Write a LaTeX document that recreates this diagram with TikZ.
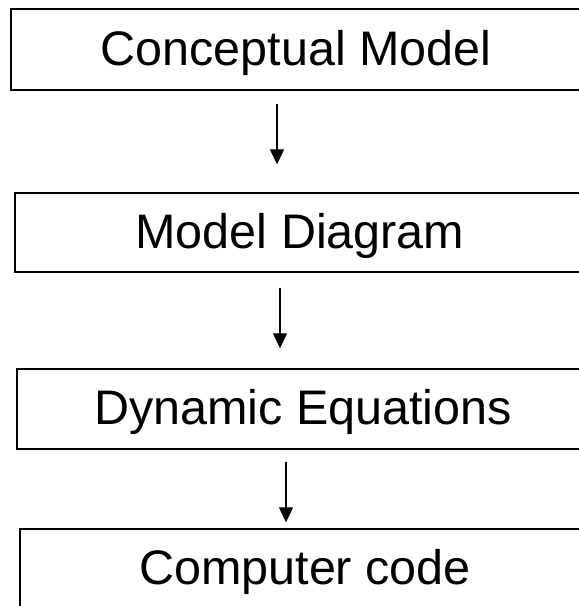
\documentclass[tikz,border=0pt]{standalone}
\usepackage{fontspec}
\setmainfont{Liberation Sans}
\usetikzlibrary{arrows.meta}
\begin{document}
\begin{tikzpicture}[x=1pt,y=-1pt,
  box/.style={draw=black,line width=1.4pt,rectangle,inner sep=0pt,
    font=\fontsize{48.5}{58}\selectfont,text height=35pt,text depth=4pt},
  arr/.style={draw=black,line width=1.3pt,-{Triangle[width=14pt,length=15pt]}}]
\useasboundingbox (0,0) rectangle (579,606);
\fill[white] (0,0) rectangle (579,606);
\node[box,minimum width=570pt,minimum height=81pt] (b1) at (296,49.5) {Conceptual Model};
\node[box,minimum width=570pt,minimum height=79pt] (b2) at (300,232.5) {Model Diagram};
\node[box,minimum width=572pt,minimum height=80pt] (b3) at (303,409) {Dynamic Equations};
\node[box,minimum width=570pt,minimum height=80pt] (b4) at (305,569) {Computer code};
\coordinate (x1) at (277,0);
\coordinate (x2) at (280,0);
\coordinate (x3) at (286,0);
\draw[arr,shorten <=13pt,shorten >=28pt] (x1 |- b1.south) -- (x1 |- b2.north);
\draw[arr,shorten <=15pt,shorten >=20pt] (x2 |- b2.south) -- (x2 |- b3.north);
\draw[arr,shorten <=12pt,shorten >=6pt] (x3 |- b3.south) -- (x3 |- b4.north);
\end{tikzpicture}
\end{document}
